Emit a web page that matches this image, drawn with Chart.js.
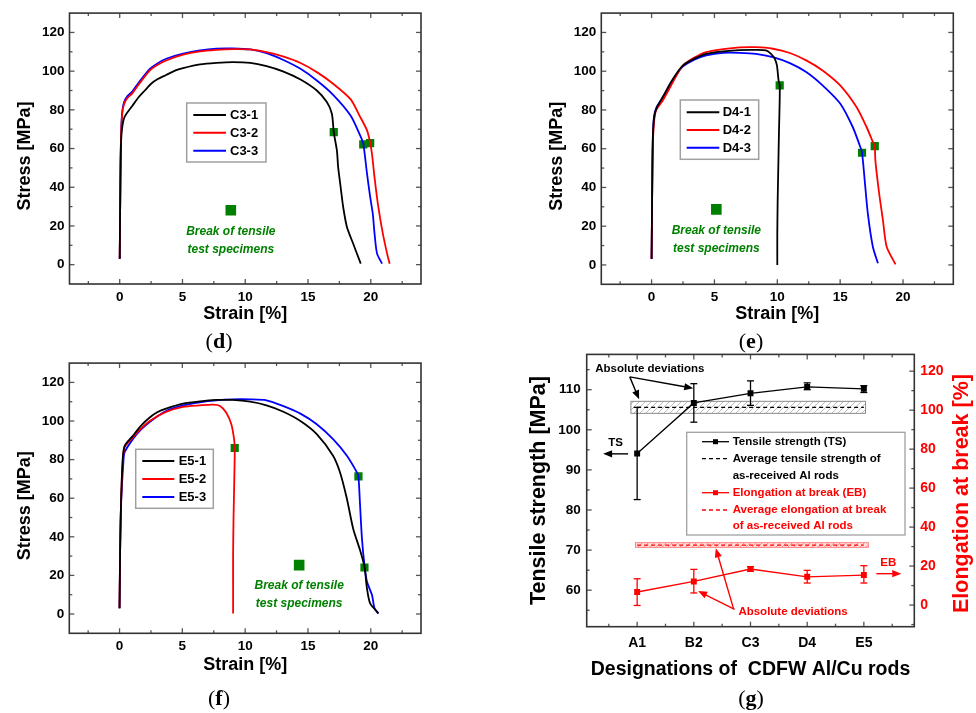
<!DOCTYPE html>
<html lang="en">
<head>
<meta charset="UTF-8">
<title>Tensile tests of CDFW Al/Cu rods</title>
<style>
  body { margin: 0; background: #fff; }
  #wrap { position: relative; width: 976px; height: 713px; overflow: hidden; background: #fff; }
  canvas { position: absolute; }
  .cap {
    position: absolute; transform: translate(-50%, -50%);
    font-family: "Liberation Serif", "Times New Roman", serif; font-size: 22px; color: #000;
  }
</style>
</head>
<body>
<div id="wrap">
  <canvas id="chD" width="490" height="330" style="left:0px;top:0px"></canvas>
  <canvas id="chE" width="444" height="330" style="left:532px;top:0px"></canvas>
  <canvas id="chF" width="490" height="330" style="left:0px;top:350px"></canvas>
  <canvas id="chG" width="461" height="350" style="left:515px;top:340px"></canvas>
  <div class="cap" style="left:219px;top:341px">(<b>d</b>)</div>
  <div class="cap" style="left:751px;top:341px">(<b>e</b>)</div>
  <div class="cap" style="left:219px;top:698px">(<b>f</b>)</div>
  <div class="cap" style="left:751px;top:698px">(<b>g</b>)</div>
</div>

<script src="https://cdn.jsdelivr.net/npm/chart.js"></script>
<script>
const FONT = '"Liberation Sans", Arial, sans-serif';
const GREEN = '#008000';
const curveColors = ['#000000', '#ff0000', '#0000ff'];

// stress-strain axes (d, e, f)
const strainTicks = [0, 5, 10, 15, 20];
const strainMinor = [-2.5, 2.5, 7.5, 12.5, 17.5, 22.5];
const stressTicks = [0, 20, 40, 60, 80, 100, 120];
const stressMinor = [10, 30, 50, 70, 90, 110];
const noteLines = ['Break of tensile', 'test specimens'];

// (d) C3 rods, [strain %, stress MPa]
const c3Labels = ['C3-1', 'C3-2', 'C3-3'];
const c3_1 = [[0,3],[0.05,40],[0.1,62],[0.2,71],[0.4,76.5],[1,82],[1.5,86.5],[2,90],[2.5,93.5],[3,95.8],[3.7,98],[4.5,100.5],[5.05,101.6],[6.4,103.5],[7.7,104.3],[9,104.7],[10.4,104.3],[11.7,102.6],[13,99.9],[14.4,95.7],[15.7,90],[16.5,84],[16.9,78],[17.05,68.5],[17.3,59],[17.4,50.4],[17.6,40],[17.8,29.8],[18.1,19.5],[18.6,10.8],[19.2,0.5]];
const c3_2 = [[0,3],[0.05,40],[0.1,65],[0.2,78],[0.35,83],[0.6,86],[1,88.5],[1.5,93],[2.4,100.4],[3,103.2],[3.7,105.5],[5.05,108.5],[6.4,110.2],[7.7,111],[9,111.4],[10.4,111.2],[11.7,109.8],[13,107.6],[14.4,104.2],[15.7,99.5],[17,93.5],[18.4,85.4],[19.1,77],[19.7,69.4],[19.95,63],[20.1,57],[20.3,45],[20.6,29.8],[20.96,16],[21.3,5.7],[21.5,0.5]];
const c3_3 = [[0,3],[0.05,40],[0.1,66],[0.2,79],[0.35,84],[0.6,87],[1,89.5],[1.5,94],[2.4,101.2],[3,104],[3.7,106.4],[5.05,109],[6.4,110.7],[7.7,111.6],[9,111.7],[10.4,111.2],[11.7,109.3],[13,105.9],[14.4,101.2],[15.7,95.2],[17,87.8],[18.4,77],[19.15,66.8],[19.4,62.5],[19.7,47],[19.95,35],[20.16,26.3],[20.3,16],[20.5,5.7],[20.9,0.5]];
const c3Breaks = [[17.05,68.5],[19.4,62.2],[19.95,62.8]];
const c3Key = [8.85, 28.1];

// (e) D4 rods
const d4Labels = ['D4-1', 'D4-2', 'D4-3'];
const d4_1 = [[0,3],[0.05,40],[0.1,65],[0.2,76],[0.4,81],[1,88],[1.5,94],[2,99],[2.5,103],[3.4,106.5],[4.35,109],[5.7,110.2],[7,110.9],[8.3,111],[9.1,110.7],[9.5,109],[9.8,106.4],[9.97,103],[10.1,95.3],[10.19,92.7],[10.19,85],[10.13,67.8],[10.08,50.6],[10.03,33.5],[10,16.3],[10,0]];
const d4_2 = [[0,3],[0.05,40],[0.1,62],[0.2,74],[0.37,80],[0.9,85],[1.5,92],[2,98],[2.5,103],[3.4,107],[4.35,109.9],[5.7,111.4],[7,112.3],[8.3,112.4],[9.65,111.6],[11,109.4],[12.3,105.6],[13.6,100.4],[15,92.7],[16.3,81.5],[17.1,71.2],[17.6,63.5],[17.75,61.3],[17.8,54],[18.1,37],[18.4,23.2],[18.7,9.4],[19.4,0.3]];
const d4_3 = [[0,3],[0.05,40],[0.1,66],[0.2,77],[0.4,81.5],[1,87.5],[1.5,93],[2,98.5],[2.5,102.5],[3.4,106],[4.35,108.2],[5.7,109.5],[7,109.5],[8.3,109],[9.65,107.3],[11,104.2],[12.3,99.6],[13.6,92.7],[15,83.3],[16,71.2],[16.55,61.8],[16.74,57.9],[16.95,43.8],[17.2,26.6],[17.6,9.4],[18,0.9]];
const d4Breaks = [[10.19,92.7],[16.74,57.9],[17.75,61.3]];
const d4Key = [5.15, 28.7];

// (f) E5 rods
const e5Labels = ['E5-1', 'E5-2', 'E5-3'];
const e5_1 = [[0,3],[0.05,35],[0.13,60],[0.25,80],[0.4,87],[1.06,92.3],[1.7,97.5],[2.4,101.8],[3,104.5],[3.7,106.4],[5.05,109],[6.4,110.2],[7.7,110.9],[9,110.9],[10.4,110],[11.7,108.1],[13,104.9],[14.4,100],[15.7,93.2],[17,82],[17.55,73.4],[18.1,59.7],[18.6,44.2],[19.15,33],[19.5,24.4],[19.7,13.2],[19.95,5.5],[20.5,1.2],[20.6,0.3]];
const e5_2 = [[0,3],[0.05,35],[0.12,58],[0.25,78],[0.4,86.3],[1.06,91.5],[1.7,96],[2.4,100],[3.7,104.7],[5.05,107.3],[6.4,108.1],[7.45,108.5],[8,107.8],[8.5,104.3],[8.9,98.3],[9.12,90.6],[9.17,86],[9.17,82],[9.12,64.8],[9.07,47.6],[9.04,30.4],[9.04,13.2],[9.04,0.3]];
const e5_3 = [[0,3],[0.05,35],[0.13,58],[0.3,78],[0.4,83.7],[1.06,90.6],[1.7,95.5],[2.4,99.5],[3.7,105.2],[5.05,108.1],[6.4,109.7],[7.7,110.7],[9,111.2],[10.4,111.2],[11.7,110.7],[13,107.8],[14.4,103.8],[15.7,98.3],[17,90.6],[18.1,82],[18.9,73.4],[19.02,71.3],[19.15,56.2],[19.3,39],[19.5,25.3],[19.7,16.7],[20.1,9.8],[20.3,2.9],[20.6,0.3]];
const e5Breaks = [[9.17,86],[19.02,71.3],[19.5,24.1]];
const e5Key = [14.3, 25.3];

// (g) summary
const rods = ['A1', 'B2', 'C3', 'D4', 'E5'];
const tsMean = [94.1, 106.7, 109.1, 110.7, 110.2];
const tsLow  = [82.6, 101.9, 106.1, 110.0, 109.3];
const tsHigh = [105.6, 111.5, 112.2, 111.7, 111.0];
const ebMean = [6.7, 12.1, 18.5, 14.5, 15.4];
const ebLow  = [-0.2, 6.2, 17.3, 11.3, 11.3];
const ebHigh = [13.5, 18.3, 19.7, 17.8, 20.2];
const avgTS = 105.6, avgTSdev = 1.5;
const avgEB = 30.8, avgEBdev = 1.2;
const tsTicks = [60, 70, 80, 90, 100, 110];
const tsMinor = [55, 65, 75, 85, 95, 105, 115];
const ebTicks = [0, 20, 40, 60, 80, 100, 120];
const ebMinor = [-10, 10, 30, 50, 70, 90, 110];

function pts(a) { return a.map(p => ({ x: p[0], y: p[1] })); }
function seg(ctx, x1, y1, x2, y2) { ctx.beginPath(); ctx.moveTo(x1, y1); ctx.lineTo(x2, y2); ctx.stroke(); }

// box with inward ticks on all four sides
const frame = {
  id: 'frame',
  afterDatasetsDraw(chart, args, o) {
    const { ctx, chartArea: a, scales } = chart;
    const sx = scales.x, sl = scales.y, sr = scales[o.right || 'y'];
    ctx.save();
    ctx.strokeStyle = '#555';
    ctx.lineWidth = 1.3;
    const hx = (vals, len) => vals.forEach(v => {
      const p = sx.getPixelForValue(v);
      seg(ctx, p, a.bottom, p, a.bottom - len); seg(ctx, p, a.top, p, a.top + len);
    });
    hx(o.xMajor, 5); hx(o.xMinor, 3);
    o.yMajor.forEach(v => { const p = sl.getPixelForValue(v); seg(ctx, a.left, p, a.left + 5, p); });
    o.yMinor.forEach(v => { const p = sl.getPixelForValue(v); seg(ctx, a.left, p, a.left + 3, p); });
    (o.rMajor || o.yMajor).forEach(v => { const p = sr.getPixelForValue(v); seg(ctx, a.right, p, a.right - 5, p); });
    (o.rMinor || o.yMinor).forEach(v => { const p = sr.getPixelForValue(v); seg(ctx, a.right, p, a.right - 3, p); });
    ctx.strokeStyle = '#333';
    ctx.lineWidth = 1.6;
    ctx.strokeRect(a.left, a.top, a.width, a.height);
    ctx.restore();
  }
};

// legend box for the three stress-strain curves + green note
const keyBox = {
  id: 'keyBox',
  afterDraw(chart, args, o) {
    const ctx = chart.ctx;
    ctx.save();
    ctx.fillStyle = '#fff';
    ctx.fillRect(o.x, o.y, o.w, o.h);
    ctx.strokeStyle = '#a0a0a0';
    ctx.lineWidth = 1.5;
    ctx.strokeRect(o.x, o.y, o.w, o.h);
    ctx.font = 'bold 13px ' + FONT;
    ctx.textBaseline = 'middle';
    o.rows.forEach((ry, i) => {
      const ds = chart.data.datasets[i];
      ctx.strokeStyle = ds.borderColor;
      ctx.lineWidth = 2;
      seg(ctx, o.sx1, ry, o.sx2, ry);
      ctx.fillStyle = '#000';
      ctx.fillText(ds.label, o.tx, ry + 0.5);
    });
    // note under the big green square
    const k = chart.data.datasets[4].data[0];
    const kx = chart.scales.x.getPixelForValue(k.x);
    const ky = chart.scales.y.getPixelForValue(k.y);
    ctx.fillStyle = GREEN;
    ctx.textAlign = 'center';
    ctx.font = 'italic bold 12px ' + FONT;
    noteLines.forEach((t, i) => ctx.fillText(t, kx, ky + 21 + i * 18));
    ctx.restore();
  }
};

function fixW(w) { return s => { s.width = w; }; }
function fixH(h) { return s => { s.height = h; }; }
function setTicks(vals) { return s => { s.ticks = vals.map(v => ({ value: v })); }; }

function curveChart(id, labels, curves, breaks, key, lay) {
  const datasets = curves.map((c, i) => ({
    label: labels[i], data: pts(c), borderColor: curveColors[i], borderWidth: 1.8,
    pointRadius: 0, tension: 0.25, fill: false
  }));
  datasets.push({ label: 'break', data: pts(breaks), showLine: false, pointStyle: 'rect',
    pointRadius: 5.8, backgroundColor: GREEN, borderWidth: 0 });
  datasets.push({ label: 'key', data: pts([key]), showLine: false, pointStyle: 'rect',
    pointRadius: 7.5, backgroundColor: GREEN, borderWidth: 0 });

  return new Chart(document.getElementById(id), {
    type: 'line',
    data: { datasets },
    plugins: [frame, keyBox],
    options: {
      responsive: false,
      animation: false,
      layout: { padding: { top: lay.top, right: lay.right, bottom: 0, left: 0 } },
      plugins: {
        legend: { display: false },
        tooltip: { enabled: false },
        frame: { xMajor: strainTicks, xMinor: strainMinor, yMajor: stressTicks, yMinor: stressMinor },
        keyBox: lay.legend
      },
      scales: {
        x: {
          type: 'linear', min: -4, max: 24,
          afterBuildTicks: setTicks(strainTicks),
          afterFit: fixH(lay.xh),
          grid: { display: false, drawTicks: false },
          border: { display: false },
          ticks: { padding: 5, color: '#000', font: { family: FONT, size: 13.5, weight: 'bold' } },
          title: { display: true, text: 'Strain [%]', color: '#000',
            font: { family: FONT, size: 18, weight: 'bold' }, padding: { top: 0, bottom: lay.xtp } }
        },
        y: {
          type: 'linear', min: -10, max: 130,
          afterBuildTicks: setTicks(stressTicks),
          afterFit: fixW(lay.yw),
          grid: { display: false, drawTicks: false },
          border: { display: false },
          ticks: { padding: 5, color: '#000', font: { family: FONT, size: 13.5, weight: 'bold' } },
          // trailing spaces push the title a little below the plot centre, as in the original
          title: { display: true, text: 'Stress [MPa]\u00a0\u00a0\u00a0', color: '#000',
            font: { family: FONT, size: 18, weight: 'bold' }, padding: { top: 14.2, bottom: 0 } }
        }
      }
    }
  });
}

curveChart('chD', c3Labels, [c3_1, c3_2, c3_3], c3Breaks, c3Key, {
  top: 12.7, right: 69, xh: 46, yw: 69.5, xtp: 5.5,
  legend: { x: 186.7, y: 103, w: 79.3, h: 59, sx1: 193.3, sx2: 226, tx: 230, rows: [115, 132.7, 150.7] }
});
curveChart('chE', d4Labels, [d4_1, d4_2, d4_3], d4Breaks, d4Key, {
  top: 12.7, right: 22.7, xh: 45.7, yw: 69.3, xtp: 5,
  legend: { x: 148.3, y: 100, w: 78.4, h: 59.3, sx1: 154.7, sx2: 187.3, tx: 190.7, rows: [112.3, 130, 147.7] }
});
curveChart('chF', e5Labels, [e5_1, e5_2, e5_3], e5Breaks, e5Key, {
  top: 12.3, right: 69, xh: 46.7, yw: 69.3, xtp: 4.2,
  legend: { x: 135.7, y: 99.3, w: 77.6, h: 59, sx1: 142.3, sx2: 174.3, tx: 178.7, rows: [111, 129, 147] }
});

// ---------- (g) ----------
function hatch(ctx, color, bg) {
  const c = document.createElement('canvas');
  c.width = 6; c.height = 6;
  const g = c.getContext('2d');
  g.fillStyle = bg; g.fillRect(0, 0, 6, 6);
  g.strokeStyle = color; g.lineWidth = 0.8;
  g.beginPath();
  g.moveTo(0, 6); g.lineTo(6, 0);
  g.moveTo(-1, 1); g.lineTo(1, -1);
  g.moveTo(5, 7); g.lineTo(7, 5);
  g.stroke();
  return ctx.createPattern(c, 'repeat');
}

function arrow(ctx, x1, y1, x2, y2, color) {
  const ang = Math.atan2(y2 - y1, x2 - x1), L = 9, W = 3.6;
  ctx.strokeStyle = color; ctx.fillStyle = color; ctx.lineWidth = 1.4;
  seg(ctx, x1, y1, x2 - Math.cos(ang) * L * 0.8, y2 - Math.sin(ang) * L * 0.8);
  ctx.beginPath();
  ctx.moveTo(x2, y2);
  ctx.lineTo(x2 - L * Math.cos(ang) + W * Math.sin(ang), y2 - L * Math.sin(ang) - W * Math.cos(ang));
  ctx.lineTo(x2 - L * Math.cos(ang) - W * Math.sin(ang), y2 - L * Math.sin(ang) + W * Math.cos(ang));
  ctx.closePath();
  ctx.fill();
}

const gExtras = {
  id: 'gExtras',
  beforeDatasetsDraw(chart) {
    const { ctx, scales: { x, y, y2 } } = chart;
    ctx.save();
    // deviation bands of as-received Al rods
    let x1 = x.getPixelForValue(0.89), x2 = x.getPixelForValue(5.03);
    let t = y.getPixelForValue(avgTS + avgTSdev), b = y.getPixelForValue(avgTS - avgTSdev);
    ctx.fillStyle = hatch(ctx, '#a8a8a8', '#ffffff');
    ctx.fillRect(x1, t, x2 - x1, b - t);
    ctx.strokeStyle = '#8a8a8a'; ctx.lineWidth = 1;
    ctx.strokeRect(x1, t, x2 - x1, b - t);
    x1 = x.getPixelForValue(0.97); x2 = x.getPixelForValue(5.08);
    t = y2.getPixelForValue(avgEB + avgEBdev); b = y2.getPixelForValue(avgEB - avgEBdev);
    ctx.fillStyle = hatch(ctx, '#ff8080', '#ffe0e0');
    ctx.fillRect(x1, t, x2 - x1, b - t);
    ctx.strokeStyle = '#ff8080';
    ctx.strokeRect(x1, t, x2 - x1, b - t);
    ctx.restore();
  },
  afterDatasetsDraw(chart) {
    const { ctx, chartArea: a, scales: { x, y, y2 } } = chart;
    ctx.save();
    // error bars
    const bars = (lo, hi, sc, color) => {
      ctx.strokeStyle = color; ctx.lineWidth = 1.3;
      lo.forEach((v, i) => {
        const px = x.getPixelForValue(i + 1), p1 = sc.getPixelForValue(v), p2 = sc.getPixelForValue(hi[i]);
        seg(ctx, px, p1, px, p2);
        seg(ctx, px - 3.5, p1, px + 3.5, p1);
        seg(ctx, px - 3.5, p2, px + 3.5, p2);
      });
    };
    bars(tsLow, tsHigh, y, '#000');
    bars(ebLow, ebHigh, y2, '#ff0000');

    // annotations
    const P = (vx, vy, s) => [x.getPixelForValue(vx), s.getPixelForValue(vy)];
    ctx.textAlign = 'center'; ctx.textBaseline = 'middle';
    ctx.font = 'bold 11.5px ' + FONT;
    let p = P(1.224, 115.1, y);
    ctx.fillStyle = '#000'; ctx.fillText('Absolute deviations', p[0], p[1]);
    let s = P(0.87, 113.2, y), e = P(1.035, 107.6, y);
    arrow(ctx, s[0], s[1], e[0], e[1], '#000');
    e = P(1.99, 110.35, y);
    arrow(ctx, s[0], s[1], e[0], e[1], '#000');
    p = P(0.619, 96.8, y);
    ctx.fillStyle = '#000'; ctx.fillText('TS', p[0], p[1]);
    s = P(0.841, 94.0, y); e = P(0.40, 94.0, y);
    arrow(ctx, s[0], s[1], e[0], e[1], '#000');

    p = P(3.75, -3.7, y2);
    ctx.fillStyle = '#ff0000'; ctx.fillText('Absolute deviations', p[0], p[1]);
    s = P(2.72, -2.2, y2); e = P(2.076, 7.2, y2);
    arrow(ctx, s[0], s[1], e[0], e[1], '#ff0000');
    s = P(2.70, -1.8, y2); e = P(2.388, 29.1, y2);
    arrow(ctx, s[0], s[1], e[0], e[1], '#ff0000');
    p = P(5.43, 21.7, y2);
    ctx.fillStyle = '#ff0000'; ctx.fillText('EB', p[0], p[1]);
    s = P(5.22, 16.1, y2); e = P(5.66, 16.1, y2);
    arrow(ctx, s[0], s[1], e[0], e[1], '#ff0000');

    // right axis title, reading upwards
    ctx.save();
    ctx.translate(446.7, (a.top + a.bottom) / 2 + 3);
    ctx.rotate(-Math.PI / 2);
    ctx.fillStyle = '#ff0000';
    ctx.font = 'bold 21.5px ' + FONT;
    ctx.fillText('Elongation at break [%]', 0, 0);
    ctx.restore();
    ctx.restore();
  },
  afterDraw(chart, args, o) {
    const ctx = chart.ctx;
    ctx.save();
    ctx.fillStyle = '#fff';
    ctx.fillRect(o.x, o.y, o.w, o.h);
    ctx.strokeStyle = '#a0a0a0'; ctx.lineWidth = 1.3;
    ctx.strokeRect(o.x, o.y, o.w, o.h);
    ctx.font = 'bold 11.5px ' + FONT;
    ctx.textBaseline = 'middle';
    o.rows.forEach((r, i) => {
      const ds = chart.data.datasets[i];
      const ly = r[0];
      ctx.strokeStyle = ds.borderColor;
      ctx.lineWidth = 1.3;
      ctx.setLineDash(ds.borderDash || []);
      seg(ctx, o.sx1, ly, o.sx2, ly);
      ctx.setLineDash([]);
      if (ds.pointRadius > 0) {
        ctx.fillStyle = ds.borderColor;
        ctx.fillRect((o.sx1 + o.sx2) / 2 - 2.5, ly - 2.5, 5, 5);
      }
      ctx.fillStyle = ds.borderColor;
      ds.label.split('\n').forEach((t, j) => ctx.fillText(t, o.tx, r[j]));
    });
    ctx.restore();
  }
};

new Chart(document.getElementById('chG'), {
  type: 'line',
  data: {
    datasets: [
      { label: 'Tensile strength (TS)', yAxisID: 'y',
        data: tsMean.map((v, i) => ({ x: i + 1, y: v })),
        borderColor: '#000000', backgroundColor: '#000000', borderWidth: 1.3,
        pointStyle: 'rect', pointRadius: 4.2, pointBorderWidth: 0, tension: 0 },
      { label: 'Average tensile strength of\nas-received Al rods', yAxisID: 'y',
        data: [{ x: 1, y: avgTS }, { x: 5, y: avgTS }],
        borderColor: '#000000', borderWidth: 1.2, borderDash: [4, 3], pointRadius: 0 },
      { label: 'Elongation at break (EB)', yAxisID: 'y2',
        data: ebMean.map((v, i) => ({ x: i + 1, y: v })),
        borderColor: '#ff0000', backgroundColor: '#ff0000', borderWidth: 1.3,
        pointStyle: 'rect', pointRadius: 4.2, pointBorderWidth: 0, tension: 0 },
      { label: 'Average elongation at break\nof as-received Al rods', yAxisID: 'y2',
        data: [{ x: 1, y: avgEB }, { x: 5, y: avgEB }],
        borderColor: '#ff0000', borderWidth: 1.2, borderDash: [4, 3], pointRadius: 0 }
    ]
  },
  plugins: [gExtras, frame],
  options: {
    responsive: false,
    animation: false,
    layout: { padding: { top: 14.3, right: 0, bottom: 0, left: 0 } },
    plugins: {
      legend: { display: false },
      tooltip: { enabled: false },
      frame: { right: 'y2', xMajor: [1, 2, 3, 4, 5], xMinor: [0.5, 1.5, 2.5, 3.5, 4.5, 5.5],
        yMajor: tsTicks, yMinor: tsMinor, rMajor: ebTicks, rMinor: ebMinor },
      gExtras: { x: 171.7, y: 92.3, w: 218.3, h: 102.7, sx1: 187, sx2: 214, tx: 217.7,
        rows: [[101.7], [118.7, 135.7], [152.7], [170, 185.7]] }
    },
    scales: {
      x: {
        type: 'linear', min: 0.11, max: 5.89,
        afterBuildTicks: setTicks([1, 2, 3, 4, 5]),
        afterFit: fixH(63.3),
        grid: { display: false, drawTicks: false },
        border: { display: false },
        ticks: { padding: 8, color: '#000', font: { family: FONT, size: 14, weight: 'bold' },
          callback: v => rods[v - 1] },
        title: { display: true, text: 'Designations of  CDFW Al/Cu rods', color: '#000',
          font: { family: FONT, size: 19.5, weight: 'bold' }, padding: { top: 0, bottom: 9 } }
      },
      y: {
        type: 'linear', position: 'left', min: 50.9, max: 118.8,
        afterBuildTicks: setTicks(tsTicks),
        afterFit: fixW(71.7),
        grid: { display: false, drawTicks: false },
        border: { display: false },
        ticks: { padding: 6, color: '#000', font: { family: FONT, size: 13.5, weight: 'bold' } },
        title: { display: true, text: 'Tensile strength [MPa]', color: '#000',
          font: { family: FONT, size: 21.5, weight: 'bold' }, padding: { top: 10.8, bottom: 0 } }
      },
      y2: {
        type: 'linear', position: 'right', min: -11.1, max: 128.6,
        afterBuildTicks: setTicks(ebTicks),
        afterFit: fixW(61.7),
        grid: { display: false, drawTicks: false },
        border: { display: false },
        ticks: { padding: 6, color: '#ff0000', font: { family: FONT, size: 14, weight: 'bold' } }
      }
    }
  }
});
</script>
</body>
</html>
